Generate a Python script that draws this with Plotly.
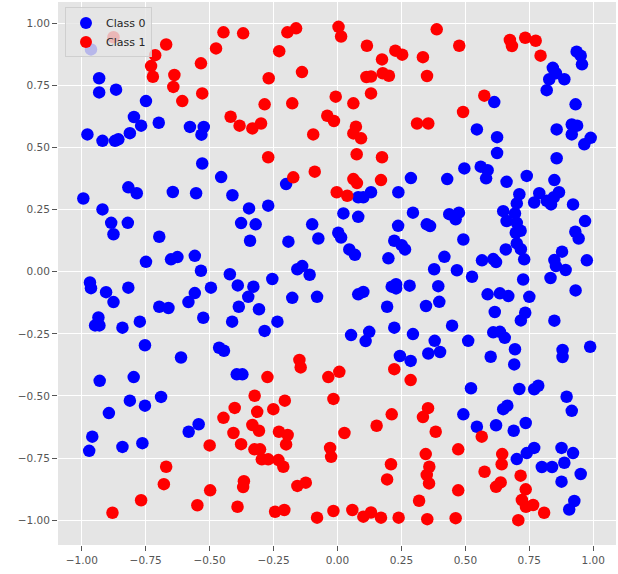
import plotly.graph_objects as go

class0_x = [-0.964, -0.932, -0.932, -0.866, -0.749, -0.796, -0.768, -0.699, -0.978, -0.919,
            -0.870, -0.857, -0.812, -0.577, -0.523, -0.532, -0.529, -0.455, -0.818, -0.785,
            -0.994, -0.644, -0.553, -0.411, -0.919, -0.885, -0.820, -0.876, -0.377, -0.346,
            -0.342, -0.697, -0.749, -0.651, -0.626, -0.558, -0.534, -0.421, -0.390, -0.968,
            -0.964, -0.905, -0.818, -0.876, -0.697, -0.661, -0.583, -0.558, -0.495, -0.386,
            -0.935, -0.948, -0.931, -0.841, -0.773, -0.525, -0.412, -0.753, -0.612, -0.463,
            -0.444, -0.201, 0.287, 0.081, 0.101, 0.131, 0.238, -0.271, 0.023, 0.081,
            0.295, -0.320, -0.099, 0.237, 0.349, 0.362, -0.192, -0.075, 0.003, 0.014,
            0.222, 0.251, 0.264, 0.046, 0.068, 0.199, -0.157, -0.138, -0.109, -0.255,
            -0.329, -0.349, -0.307, -0.177, -0.080, 0.081, 0.101, 0.212, 0.229, 0.229,
            0.282, 0.194, 0.346, -0.235, -0.285, 0.053, 0.124, 0.110, 0.222, 0.295,
            0.244, 0.286, 0.355, -0.394, -0.372, -0.930, -0.797, -0.812, -0.753, -0.690,
            -0.894, -0.543, -0.582, -0.959, -0.971, -0.841, -0.763,
            0.935, 0.951, 0.956, 0.842, 0.854, 0.828, 0.887, 0.818, 0.613, 0.931,
            0.545, 0.624, 0.857, 0.916, 0.937, 0.916, 0.990, 0.965, 0.624, 0.857,
            0.496, 0.560, 0.587, 0.581, 0.429, 0.661, 0.740, 0.848, 0.711, 0.701,
            0.789, 0.769, 0.818, 0.835, 0.846, 0.866, 0.921, 0.648, 0.694, 0.661,
            0.701, 0.697, 0.716, 0.437, 0.475, 0.462, 0.492, 0.968, 0.930, 0.943,
            0.701, 0.717, 0.658, 0.730, 0.878, 0.848, 0.854, 0.892, 0.975, 0.418,
            0.565, 0.609, 0.620, 0.378, 0.467, 0.526, 0.726, 0.833, 0.931, 0.394,
            0.398, 0.587, 0.635, 0.668, 0.750, 0.615, 0.734, 0.717, 0.848, 0.448,
            0.609, 0.635, 0.654, 0.380, 0.511, 0.694, 0.401, 0.599, 0.880, 0.880,
            0.988, 0.691, 0.522, 0.711, 0.769, 0.785, 0.896, 0.916, 0.492, 0.648,
            0.664, 0.545, 0.620, 0.689, 0.736, 0.701, 0.740, 0.769, 0.799, 0.839,
            0.876, 0.921, 0.887, 0.951, 0.876, 0.926, 0.906]
class0_y = [0.895, 0.779, 0.722, 0.733, 0.687, 0.623, 0.588, 0.600, 0.553, 0.527,
            0.527, 0.533, 0.558, 0.583, 0.583, 0.552, 0.436, 0.381, 0.340, 0.316,
            0.295, 0.321, 0.316, 0.308, 0.251, 0.197, 0.197, 0.151, 0.196, 0.255,
            0.125, 0.141, 0.040, 0.050, 0.059, 0.064, 0.004, -0.010, -0.055, -0.043,
            -0.066, -0.082, -0.064, -0.122, -0.141, -0.146, -0.122, -0.086, -0.064, -0.141,
            -0.184, -0.216, -0.216, -0.225, -0.201, -0.185, -0.201, -0.296, -0.345, -0.306,
            -0.318, 0.353, 0.377, 0.300, 0.300, 0.320, 0.320, 0.266, 0.235, 0.221,
            0.238, 0.191, 0.191, 0.185, 0.191, 0.184, 0.121, 0.134, 0.157, 0.138,
            0.125, 0.107, 0.090, 0.090, 0.068, 0.054, 0.010, 0.023, -0.012, -0.029,
            -0.060, -0.101, -0.151, -0.105, -0.101, -0.091, -0.081, -0.060, -0.050, -0.067,
            -0.056, -0.141, -0.138, -0.201, -0.238, -0.255, -0.242, -0.279, -0.225, -0.251,
            -0.339, -0.359, -0.329, -0.413, -0.413, -0.439, -0.424, -0.519, -0.539, -0.504,
            -0.569, -0.614, -0.644, -0.664, -0.721, -0.705, -0.690,
            0.886, 0.870, 0.835, 0.821, 0.799, 0.775, 0.775, 0.731, 0.683, 0.674,
            0.573, 0.542, 0.573, 0.593, 0.588, 0.553, 0.539, 0.513, 0.478, 0.457,
            0.416, 0.423, 0.409, 0.376, 0.373, 0.362, 0.386, 0.369, 0.312, 0.275,
            0.316, 0.279, 0.286, 0.271, 0.300, 0.320, 0.271, 0.244, 0.235, 0.204,
            0.197, 0.157, 0.165, 0.232, 0.238, 0.211, 0.130, 0.204, 0.161, 0.134,
            0.114, 0.091, 0.090, 0.050, 0.081, 0.047, 0.023, 0.007, 0.046, 0.060,
            0.046, 0.051, 0.039, 0.010, 0.006, -0.020, -0.031, -0.025, -0.075, -0.058,
            -0.121, -0.091, -0.087, -0.098, -0.101, -0.162, -0.165, -0.196, -0.197, -0.217,
            -0.244, -0.242, -0.266, -0.278, -0.278, -0.312, -0.323, -0.342, -0.315, -0.343,
            -0.302, -0.373, -0.469, -0.472, -0.473, -0.459, -0.503, -0.560, -0.574, -0.553,
            -0.539, -0.624, -0.618, -0.640, -0.609, -0.754, -0.730, -0.709, -0.786, -0.786,
            -0.709, -0.730, -0.769, -0.814, -0.845, -0.923, -0.957]

class1_x = [-0.876, -0.446, -0.369, -0.670, -0.475, -0.713, -0.534, -0.729, -0.638, -0.722,
            -0.642, -0.529, -0.607, -0.418, -0.383, -0.196, -0.162, 0.004, 0.014, -0.228,
            0.115, 0.174, 0.226, 0.253, 0.334, -0.269, -0.139, 0.113, 0.131, 0.177,
            0.201, 0.350, -0.007, 0.131, 0.062, -0.285, -0.177, -0.040, -0.014, 0.072,
            0.062, 0.092, -0.333, -0.299, -0.095, 0.311, 0.355, -0.271, 0.075, 0.174,
            -0.173, -0.089, 0.062, 0.076, 0.170, -0.003, 0.038, 0.388, 0.476, 0.674,
            0.682, 0.734, 0.775, 0.794, 0.574, 0.491,
            -0.149, -0.144, -0.274, -0.036, 0.007, 0.222, 0.286, -0.324, -0.206, -0.016,
            -0.314, -0.251, -0.333, -0.307, -0.229, -0.195, -0.201, 0.027, 0.153, 0.212,
            0.354, 0.334, -0.325, -0.303, -0.296, -0.271, -0.231, -0.212, -0.029, -0.025,
            0.209, 0.194, -0.157, -0.124, -0.244, -0.208, -0.080, -0.016, 0.058, 0.101,
            0.131, 0.170, 0.239, 0.319, 0.351, 0.462, 0.384, 0.564, 0.472, 0.345,
            0.359, 0.349, 0.358, 0.644, 0.642, 0.575, 0.620, 0.638, 0.716, 0.736,
            0.721, 0.737, 0.765, 0.808, 0.707, 0.472,
            -0.402, -0.446, -0.407, -0.377, -0.500, -0.670, -0.679, -0.498, -0.366, -0.369,
            -0.768, -0.548, -0.391, -0.880]
class1_y = [0.944, 0.964, 0.960, 0.915, 0.899, 0.872, 0.839, 0.828, 0.792, 0.785,
            0.744, 0.718, 0.687, 0.624, 0.588, 0.964, 0.980, 0.986, 0.947, 0.888,
            0.910, 0.855, 0.890, 0.874, 0.864, 0.779, 0.804, 0.784, 0.786, 0.799,
            0.789, 0.788, 0.705, 0.718, 0.678, 0.674, 0.678, 0.628, 0.607, 0.584,
            0.557, 0.537, 0.577, 0.597, 0.553, 0.597, 0.597, 0.461, 0.473, 0.461,
            0.380, 0.403, 0.373, 0.357, 0.369, 0.320, 0.306, 0.976, 0.910, 0.933,
            0.909, 0.942, 0.930, 0.870, 0.709, 0.643,
            -0.355, -0.385, -0.424, -0.424, -0.403, -0.392, -0.436, -0.499, -0.519, -0.512,
            -0.564, -0.553, -0.617, -0.640, -0.644, -0.657, -0.695, -0.649, -0.620, -0.574,
            -0.549, -0.585, -0.715, -0.715, -0.755, -0.755, -0.758, -0.785, -0.709, -0.745,
            -0.775, -0.836, -0.862, -0.849, -0.966, -0.959, -0.990, -0.963, -0.959, -0.986,
            -0.969, -0.990, -0.990, -0.922, -0.996, -0.992, -0.644, -0.664, -0.715, -0.734,
            -0.785, -0.818, -0.852, -0.734, -0.775, -0.805, -0.866, -0.848, -0.821, -0.876,
            -0.919, -0.946, -0.939, -0.970, -1.000, -0.880,
            -0.548, -0.588, -0.649, -0.694, -0.699, -0.785, -0.855, -0.880, -0.843, -0.867,
            -0.920, -0.940, -0.946, -0.970]

tick_vals = [-1.0, -0.75, -0.5, -0.25, 0.0, 0.25, 0.5, 0.75, 1.0]
series_names = ["Class 0", "Class 1"]
series_colors = ["blue", "red"]

fig = go.Figure()
for name, color, xs, ys in [(series_names[0], series_colors[0], class0_x, class0_y),
                            (series_names[1], series_colors[1], class1_x, class1_y)]:
    fig.add_trace(go.Scatter(x=xs, y=ys, mode="markers", name=name,
                             marker=dict(color=color, size=12.5, line=dict(width=0))))

axis_common = dict(
    tickvals=tick_vals, tickformat=".2f",
    showgrid=True, gridcolor="white", gridwidth=1, zeroline=False,
    ticks="outside", ticklen=5, tickcolor="#555555", tickwidth=1,
    tickfont=dict(family="DejaVu Sans", size=10.5, color="#555555"),
    showline=False,
)
fig.update_xaxes(range=[-1.093, 1.089], **axis_common)
fig.update_yaxes(range=[-1.100, 1.086], **axis_common)

fig.update_layout(
    width=618, height=574,
    margin=dict(l=58, r=2, t=2, b=29, pad=0),
    paper_bgcolor="white", plot_bgcolor="#E5E5E5",
    showlegend=True,
    legend=dict(x=0.0125, y=0.99, xanchor="left", yanchor="top",
                bgcolor="rgba(229,229,229,0.8)", bordercolor="rgba(204,204,204,0.9)",
                borderwidth=1, font=dict(family="DejaVu Sans", size=11, color="#262626"),
                itemsizing="constant"),
)

fig.write_html("out.html")
